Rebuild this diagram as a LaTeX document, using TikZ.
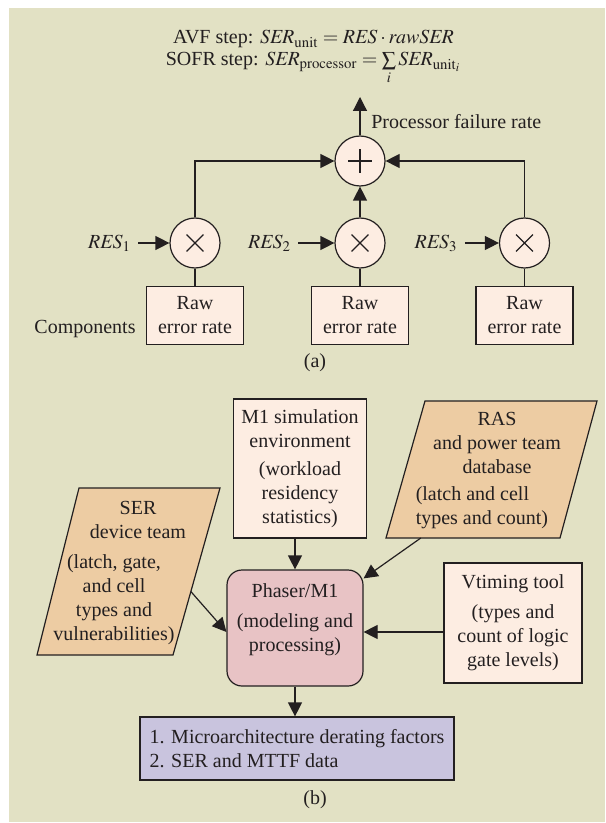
\documentclass[tikz,border=0pt]{standalone}
\usepackage{mathptmx}
\usepackage{fontspec}
\setmainfont{Liberation Serif}
\usepackage{tikz}
\usetikzlibrary{arrows.meta,calc,positioning}
\definecolor{panelbg}{HTML}{E2E1C4}
\definecolor{peach}{HTML}{FDEDE2}
\definecolor{srcfill}{HTML}{EDCCA3}
\definecolor{procpink}{HTML}{E8C3C5}
\definecolor{outlav}{HTML}{C9C4DE}
\definecolor{ink}{HTML}{231F20}
\tikzset{
  arr/.style={-{Triangle[length=7pt,width=7pt]}},
  opnode/.style={circle, draw, fill=peach, minimum size=25pt, inner sep=0pt},
  plusop/.style={opnode, path picture={\draw ($(path picture bounding box.center)+(-6pt,0)$) -- ++(12pt,0) ($(path picture bounding box.center)+(0,-6pt)$) -- ++(0,12pt);}},
  timesop/.style={opnode, path picture={\draw ($(path picture bounding box.center)+(-4.2pt,-4.2pt)$) -- ++(8.4pt,8.4pt) ($(path picture bounding box.center)+(-4.2pt,4.2pt)$) -- ++(8.4pt,-8.4pt);}},
  rawbox/.style={draw, fill=peach, minimum width=48.5pt, minimum height=29pt, align=center, inner sep=1pt},
  infobox/.style={draw, fill=peach, align=center, inner sep=2pt},
  srcshape/.style={draw, fill=srcfill},
  procbox/.style={draw, fill=procpink, rounded corners=7.5pt, minimum width=68pt, minimum height=58pt},
  outbox/.style={draw, fill=outlav, align=left, minimum width=157pt, minimum height=31.5pt}
}
\begin{document}
\begin{tikzpicture}[x=0.5pt,y=-0.5pt, line width=0.6pt, color=ink]
\useasboundingbox (0,0) rectangle (605,823);
\fill[panelbg] (9,8) rectangle (605,822);
\node[anchor=base] (avf) at (313.5,44) {AVF step: $\mathit{SER}_{\mathrm{unit}} = \mathit{RES}\cdot\mathit{rawSER}$};
\node[anchor=base] (sofr) at (313.5,66) {SOFR step: $\mathit{SER}_{\mathrm{processor}} = \sum\limits_i \mathit{SER}_{\mathrm{unit}_i}$};
\node[plusop] (plus) at (360,161) {};
\node[timesop] (mul1) at (195,243) {};
\node[timesop] (mul2) at (360,243) {};
\node[timesop] (mul3) at (524.5,243) {};
\foreach \i/\x in {1/195,2/360,3/524.5}
  \node[rawbox] (raw\i) at (\x,315.5) {Raw\\error rate};
\node[left=15.5pt of mul1] (res1) {$\mathit{RES}_1$};
\node[left=18pt of mul2] (res2) {$\mathit{RES}_2$};
\node[left=17pt of mul3] (res3) {$\mathit{RES}_3$};
\node[anchor=base] (comp) at (85,333) {Components};
\node (capa) at (315,363) {(a)};
\coordinate (pfr) at (360,97);
\draw[arr] (plus) -- node[right=2pt, pos=.35] {Processor failure rate} (pfr);
\draw[arr] (mul1) |- (plus);
\draw[arr] (mul3) |- (plus);
\draw[arr] (mul2) -- (plus);
\foreach \i in {1,2,3}{
  \draw (raw\i) -- (mul\i);
  \draw[arr] (res\i) -- (mul\i);
}
\node[infobox, minimum width=66.5pt, minimum height=69.5pt] (m1sim) at (300,468.5) {M1 simulation\\environment\\[2pt](workload\\residency\\statistics)};
\draw[srcshape] (386,538) coordinate (ras-bl) -- (560,538) coordinate (ras-br) -- (597,401) coordinate (ras-tr) -- (425,401) coordinate (ras-tl) -- cycle;
\node[align=center] (ras) at (497,443) {RAS\\and power team\\database};
\node[align=left, anchor=west] (rasnote) at (408.5,507.5) {(latch and cell\\types and count)};
\draw[srcshape] (37,655) coordinate (ser-bl) -- (173,655) coordinate (ser-br) -- (220,488) coordinate (ser-tr) -- (79,488) coordinate (ser-tl) -- cycle;
\node[align=center] (ser) at (138,520) {SER\\device team};
\node[align=center] (sernote) at (114,600) {(latch, gate,\\and cell\\types and\\vulnerabilities)};
\node[procbox] (phaser) at (295,628) {};
\node[align=center] (phasertxt) at (295,620) {Phaser/M1\\[3pt](modeling and\\processing)};
\node[infobox, minimum width=69pt, minimum height=60pt] (vtiming) at (513,623) {Vtiming tool\\[3pt](types and\\count of logic\\gate levels)};
\node[outbox] (result) at (297,748.5) {1. Microarchitecture derating factors\\2. SER and MTTF data};
\node (capb) at (315,800) {(b)};
\coordinate (ras-out) at ($(ras-bl)!0.2!(ras-br)$);
\coordinate (ser-out) at ($(ser-tr)!0.62!(ser-br)$);
\draw[arr] (m1sim.south -| phaser) -- (phaser);
\draw[arr] (ras-out) -- ([yshift=-4.5pt]phaser.north east);
\draw[arr] (ser-out) -- ([yshift=-2pt]phaser.west);
\draw[arr] ([yshift=-4.5pt]vtiming.west) coordinate (vt-in) -- (vt-in -| phaser.east);
\draw[arr] (phaser) -- (phaser |- result.north);
\end{tikzpicture}
\end{document}
